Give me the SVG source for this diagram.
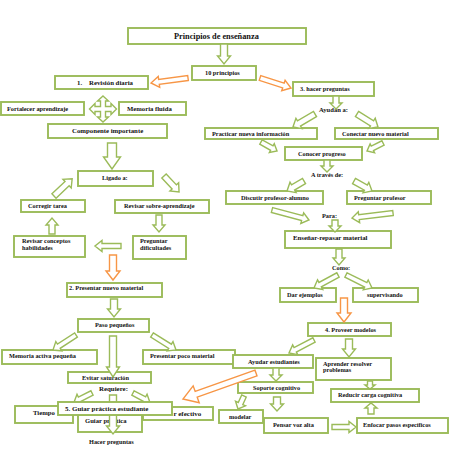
<svg xmlns="http://www.w3.org/2000/svg" width="453" height="453" viewBox="0 0 453 453">
<style>
.b{fill:#fff;stroke:#9BBB59;stroke-width:1.9}
.t{font-family:"Liberation Serif","Times New Roman",serif;font-weight:bold;font-size:6.3px;fill:#111}
.g{fill:#fff;stroke:#9BBB59;stroke-width:1.4;stroke-linejoin:miter}
.o{fill:#fff;stroke:#F79646;stroke-width:1.4;stroke-linejoin:miter}
</style>
<rect width="453" height="453" fill="#fff"/>
<g id="n-principios"><rect class="b" x="128" y="28" width="178" height="16"/><text class="t" x="174" y="39" style="font-size:8.3px">Principios de enseñanza</text></g>
<g id="n-10"><rect class="b" x="192" y="66" width="64" height="14"/><text class="t" x="205" y="75">10 principios</text></g>
<g id="n-revision"><rect class="b" x="55" y="76" width="93" height="13"/><text class="t" x="77" y="85" style="font-size:6.8px">1.</text><text class="t" x="89" y="85" style="font-size:6.8px">Revisión diaria</text></g>
<g id="n-fortalecer"><rect class="b" x="1" y="102" width="83" height="13"/><text class="t" x="7" y="111">Fortalecer aprendizaje</text></g>
<g id="n-memfluida"><rect class="b" x="119" y="102" width="67" height="13"/><text class="t" x="127" y="111" style="font-size:6.7px">Memoria fluida</text></g>
<g id="n-componente"><rect class="b" x="48" y="124" width="119" height="14"/><text class="t" x="72" y="133" style="font-size:6.8px">Componente importante</text></g>
<g id="n-ligado"><rect class="b" x="78" y="171" width="75" height="15"/><text class="t" x="102" y="180">Ligado a:</text></g>
<g id="n-corregir"><rect class="b" x="21" y="200" width="64" height="12"/><text class="t" x="28" y="208">Corregir tarea</text></g>
<g id="n-sobre"><rect class="b" x="115" y="200" width="94" height="13"/><text class="t" x="124" y="208">Revisar sobre-aprendizaje</text></g>
<g id="n-conceptos"><rect class="b" x="14" y="236" width="71" height="21"/><text class="t" x="22" y="243">Revisar conceptos</text><text class="t" x="22" y="250">habilidades</text></g>
<g id="n-dificultades"><rect class="b" x="133" y="236" width="53" height="23"/><text class="t" x="140" y="243">Preguntar</text><text class="t" x="140" y="250">dificultades</text></g>
<g id="n-presentar"><rect class="b" x="67" y="283" width="95" height="14"/><text class="t" x="69" y="290">2. Presentar nuevo material</text></g>
<g id="n-paso"><rect class="b" x="78" y="319" width="71" height="13"/><text class="t" x="95" y="327">Paso pequeños</text></g>
<g id="n-memactiva"><rect class="b" x="2" y="350" width="95" height="14"/><text class="t" x="9" y="358">Memoria activa pequeña</text></g>
<g id="n-poco"><rect class="b" x="143" y="350" width="92" height="14"/><text class="t" x="150" y="358">Presentar poco material</text></g>
<g id="n-evitar"><rect class="b" x="68" y="372" width="83" height="11"/><text class="t" x="82" y="380">Evitar saturación</text></g>
<g id="l-requiere"><text class="t" x="99" y="391" style="font-size:6.9px">Requiere:</text></g>
<g id="n-tiempo"><rect class="b" x="15" y="406" width="58" height="17"/><text class="t" x="33" y="415" style="font-size:6.7px">Tiempo</text></g>
<g id="n-guiarp"><rect class="b" x="78" y="415" width="64" height="17"/><text class="t" x="85" y="423" style="font-size:6.6px">Guiar práctica</text></g>
<g id="n-efectivo"><rect class="b" x="143" y="407" width="70" height="13"/><text class="t" x="173.5" y="416" style="font-size:7px">r efectivo</text></g>
<g id="l-hacer"><text class="t" x="89" y="444">Hacer preguntas</text></g>
<g id="n-hacer3"><rect class="b" x="293" y="82" width="81" height="14"/><text class="t" x="300" y="91">3. hacer preguntas</text></g>
<g id="l-ayudan"><text class="t" x="319" y="112" style="font-size:6.6px">Ayudan a:</text></g>
<g id="n-practicar"><rect class="b" x="205" y="128" width="112" height="11"/><text class="t" x="212" y="135.5">Practicar nueva información</text></g>
<g id="n-conectar"><rect class="b" x="335" y="128" width="103" height="11"/><text class="t" x="342" y="135.5">Conectar nuevo material</text></g>
<g id="n-conocer"><rect class="b" x="285" y="147" width="77" height="13"/><text class="t" x="298" y="155.5">Conocer progreso</text></g>
<g id="l-traves"><text class="t" x="311" y="176.5">A través de:</text></g>
<g id="n-discutir"><rect class="b" x="226" y="191" width="97" height="13"/><text class="t" x="241" y="199.5">Discutir profesor-alumno</text></g>
<g id="n-pregprof"><rect class="b" x="347" y="191" width="84" height="13"/><text class="t" x="354" y="199.5">Preguntar profesor</text></g>
<g id="l-para"><text class="t" x="322" y="217.5">Para:</text></g>
<g id="n-ensenar"><rect class="b" x="285" y="231" width="106" height="17"/><text class="t" x="293" y="239.5" style="font-size:6.8px">Enseñar-repasar material</text></g>
<g id="l-como"><text class="t" x="332" y="269.5">Como:</text></g>
<g id="n-ejemplos"><rect class="b" x="280" y="288" width="56" height="14"/><text class="t" x="287" y="296.5">Dar ejemplos</text></g>
<g id="n-supervisando"><rect class="b" x="353" y="288" width="65" height="14"/><text class="t" x="367" y="296.5">supervisando</text></g>
<g id="n-proveer"><rect class="b" x="308" y="323" width="83" height="13"/><text class="t" x="325" y="331.5">4. Proveer modelos</text></g>
<g id="n-ayudar"><rect class="b" x="233" y="355" width="80" height="13"/><text class="t" x="248" y="363.5">Ayudar estudiantes</text></g>
<g id="n-aprender"><rect class="b" x="316" y="358" width="75" height="22"/><text class="t" x="323" y="365.5">Aprender resolver</text><text class="t" x="323" y="372">problemas</text></g>
<g id="n-soporte"><rect class="b" x="238" y="382" width="75" height="11"/><text class="t" x="253" y="390">Soporte cognitivo</text></g>
<g id="n-reducir"><rect class="b" x="331" y="389" width="88" height="13"/><text class="t" x="338" y="397">Reducir carga cognitiva</text></g>
<g id="n-modelar"><rect class="b" x="219" y="410" width="44" height="13"/><text class="t" x="229" y="419">modelar</text></g>
<g id="n-pensar"><rect class="b" x="264" y="418" width="64" height="15"/><text class="t" x="273" y="426.5">Pensar voz alta</text></g>
<g id="n-enfocar"><rect class="b" x="357" y="418" width="91" height="15"/><text class="t" x="363" y="426.5">Enfocar pasos específicos</text></g>
<g id="connectors">
<path class="g" transform="translate(224,44) rotate(90)" d="M0,-3.5 H12 V-6.5 L20,0 L12,6.5 V3.5 H0 Z"/>
<path class="g" d="M103,96 L108.5,101 H105.5 V106.5 H111 V103.5 L116.5,109 L111,114.5 V111.5 H105.5 V117 H108.5 L103,122 L97.5,117 H100.5 V111.5 H95 V114.5 L89.5,109 L95,103.5 V106.5 H100.5 V101 H97.5 Z"/>
<path class="g" transform="translate(112,143) rotate(90)" d="M0,-4.5 H14 V-8.5 L26,0 L14,8.5 V4.5 H0 Z"/>
<path class="g" transform="translate(164,176) rotate(46.8)" d="M0,-3 H15 V-6 L22,0 L15,6 V3 H0 Z"/>
<path class="g" transform="translate(54,196) rotate(-43.4)" d="M0,-3 H18 V-6 L25,0 L18,6 V3 H0 Z"/>
<path class="g" transform="translate(159,215) rotate(90)" d="M0,-3 H10 V-6 L17,0 L10,6 V3 H0 Z"/>
<path class="g" transform="translate(52,234) rotate(-90)" d="M0,-3 H9 V-6 L16,0 L9,6 V3 H0 Z"/>
<path class="g" transform="translate(121,246) rotate(180)" d="M0,-2.5 H19 V-5.5 L26,0 L19,5.5 V2.5 H0 Z"/>
<path class="g" transform="translate(114,299) rotate(90)" d="M0,-3.5 H10 V-6.5 L18,0 L10,6.5 V3.5 H0 Z"/>
<path class="g" transform="translate(76,335) rotate(146.9)" d="M0,-2.5 H20.5 V-5.5 L27.5,0 L20.5,5.5 V2.5 H0 Z"/>
<path class="g" transform="translate(152,335) rotate(32)" d="M0,-2.5 H21.3 V-5.5 L28.3,0 L21.3,5.5 V2.5 H0 Z"/>
<path class="g" transform="translate(113,336) rotate(90)" d="M0,-3.5 H31 V-6.5 L41,0 L31,6.5 V3.5 H0 Z"/>
<path class="g" transform="translate(92,393) rotate(153.4)" d="M0,-2.5 H14 V-5.5 L20,0 L14,5.5 V2.5 H0 Z"/>
<path class="g" transform="translate(133,393) rotate(27.9)" d="M0,-2.5 H13 V-5.5 L19,0 L13,5.5 V2.5 H0 Z"/>
<path class="g" transform="translate(113,395) rotate(90)" d="M0,-3.5 H31 V-6.5 L39,0 L31,6.5 V3.5 H0 Z"/>
<path class="g" transform="translate(336,96) rotate(90)" d="M0,-3 H7 V-6 L13,0 L7,6 V3 H0 Z"/>
<path class="g" transform="translate(315,114) rotate(149.4)" d="M0,-3 H18.6 V-6 L25.6,0 L18.6,6 V3 H0 Z"/>
<path class="g" transform="translate(357,114) rotate(31.8)" d="M0,-3 H17.7 V-6 L24.7,0 L17.7,6 V3 H0 Z"/>
<path class="g" transform="translate(261,142) rotate(29.4)" d="M0,-2.5 H12.4 V-5 L18.4,0 L12.4,5 V2.5 H0 Z"/>
<path class="g" transform="translate(383,143) rotate(153.4)" d="M0,-2.5 H11.9 V-5 L17.9,0 L11.9,5 V2.5 H0 Z"/>
<path class="g" transform="translate(327,160) rotate(90)" d="M0,-3 H6 V-6 L12,0 L6,6 V3 H0 Z"/>
<path class="g" transform="translate(304,181) rotate(149.5)" d="M0,-3 H12.7 V-6 L19.7,0 L12.7,6 V3 H0 Z"/>
<path class="g" transform="translate(354,181) rotate(29.1)" d="M0,-3 H13.6 V-6 L20.6,0 L13.6,6 V3 H0 Z"/>
<path class="g" transform="translate(272,210) rotate(15.1)" d="M0,-2.5 H31.3 V-5.5 L38.3,0 L31.3,5.5 V2.5 H0 Z"/>
<path class="g" transform="translate(393,213) rotate(173)" d="M0,-2.5 H34.3 V-5.5 L41.3,0 L34.3,5.5 V2.5 H0 Z"/>
<path class="g" transform="translate(335,220) rotate(90)" d="M0,-3 H6 V-6 L12,0 L6,6 V3 H0 Z"/>
<path class="g" transform="translate(339,249) rotate(90)" d="M0,-3 H9 V-6 L16,0 L9,6 V3 H0 Z"/>
<path class="g" transform="translate(338,275) rotate(151.6)" d="M0,-2.5 H20.3 V-5.5 L27.3,0 L20.3,5.5 V2.5 H0 Z"/>
<path class="g" transform="translate(346,275) rotate(26.6)" d="M0,-2.5 H22.1 V-5.5 L29.1,0 L22.1,5.5 V2.5 H0 Z"/>
<path class="g" transform="translate(314,340) rotate(152.5)" d="M0,-2.5 H21.2 V-5.5 L28.2,0 L21.2,5.5 V2.5 H0 Z"/>
<path class="g" transform="translate(349,339) rotate(90)" d="M0,-3.5 H10 V-6.5 L18,0 L10,6.5 V3.5 H0 Z"/>
<path class="g" transform="translate(276,368) rotate(90)" d="M0,-3 H7 V-6 L13,0 L7,6 V3 H0 Z"/>
<path class="g" transform="translate(370,381) rotate(90)" d="M0,-2.5 H4 V-5 L8,0 L4,5 V2.5 H0 Z"/>
<path class="g" transform="translate(244,396) rotate(114.8)" d="M0,-2.5 H8.3 V-5.5 L14.3,0 L8.3,5.5 V2.5 H0 Z"/>
<path class="g" transform="translate(277,397) rotate(90)" d="M0,-3.5 H7 V-6.5 L14,0 L7,6.5 V3.5 H0 Z"/>
<path class="g" transform="translate(332,427)" d="M0,-2.5 H17 V-5.5 L24,0 L17,5.5 V2.5 H0 Z"/>
<path class="g" transform="translate(371,414) rotate(-90)" d="M0,-3 H6 V-6 L11,0 L6,6 V3 H0 Z"/>
<path class="o" transform="translate(188,78) rotate(172.3)" d="M0,-2.5 H29.3 V-5.5 L37.3,0 L29.3,5.5 V2.5 H0 Z"/>
<path class="o" transform="translate(260,78) rotate(17.9)" d="M0,-2.5 H24.6 V-5.5 L32.6,0 L24.6,5.5 V2.5 H0 Z"/>
<path class="o" transform="translate(113,255) rotate(90)" d="M0,-3.5 H16 V-7 L25,0 L16,7 V3.5 H0 Z"/>
<path class="o" transform="translate(344,298) rotate(90)" d="M0,-3.5 H15 V-7 L24,0 L15,7 V3.5 H0 Z"/>
<path class="o" transform="translate(256,373) rotate(160.4)" d="M0,-3 H63.5 V-9 L77.5,0 L63.5,9 V3 H0 Z"/>
</g>
<g id="n-guiar5"><rect class="b" x="58" y="402" width="114" height="13"/><text class="t" x="65" y="410.5" style="font-size:7px">5. Guiar práctica estudiante</text></g>
</svg>
